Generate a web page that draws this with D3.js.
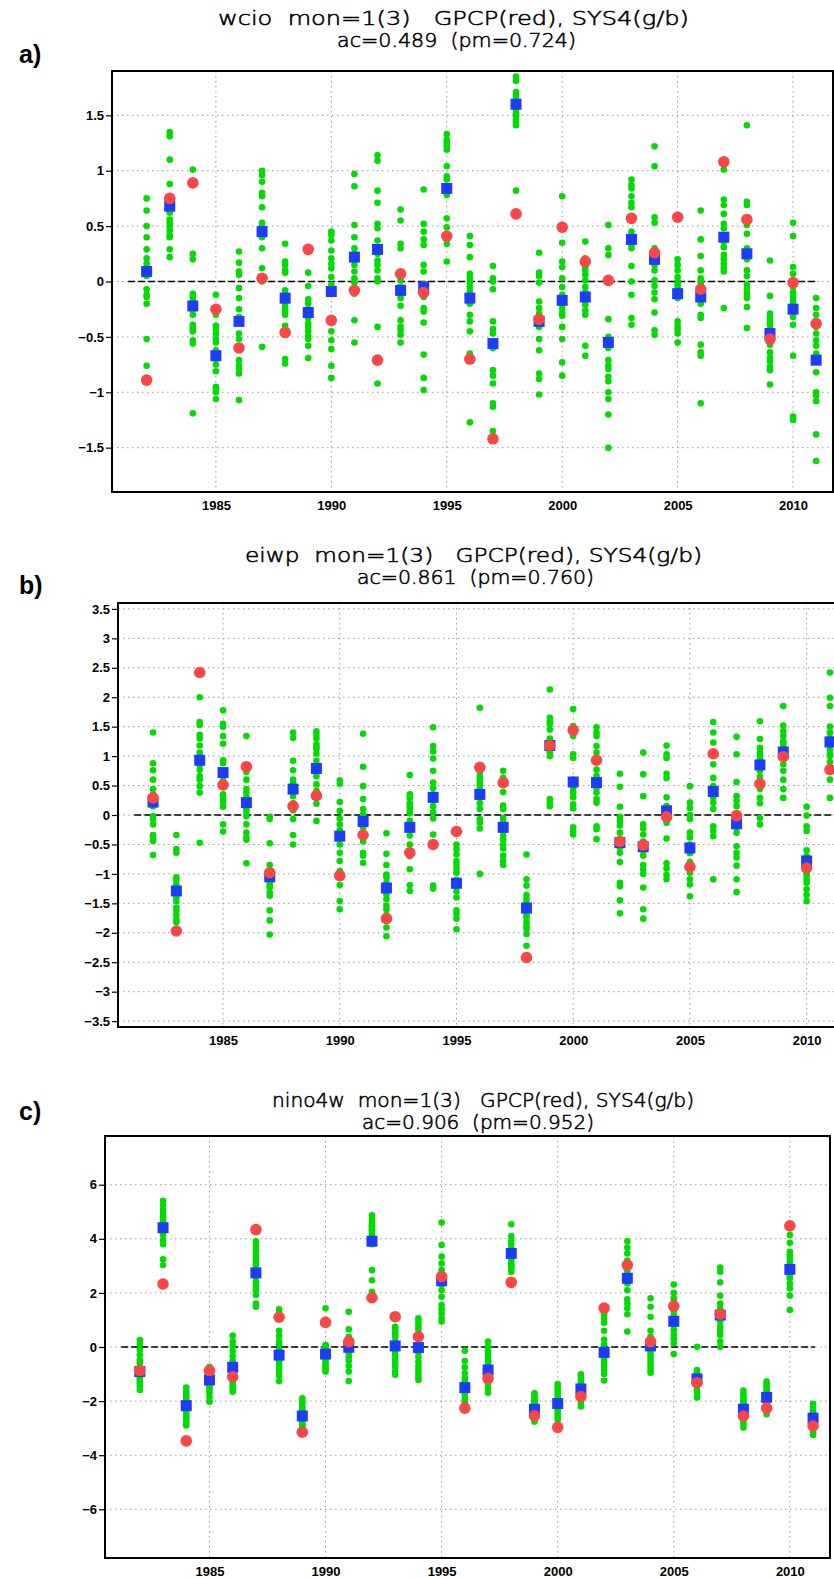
<!DOCTYPE html>
<html><head><meta charset="utf-8">
<script src="https://cdn.jsdelivr.net/npm/d3@7"></script>
<style>body{margin:0;background:#fff} svg{display:block}</style>
</head><body>
<svg id="chart" width="834" height="1578"></svg>
<script>
const years = [1982,1983,1984,1985,1986,1987,1988,1989,1990,1991,1992,1993,1994,1995,1996,1997,1998,1999,2000,2001,2002,2003,2004,2005,2006,2007,2008,2009,2010,2011];
const gridYears = [1985,1990,1995,2000,2005,2010];

// ---- panel a: wcio ----
const wcioTicks = [-1.5,-1,-0.5,0,0.5,1,1.5];
const wcioObs = [-0.89,0.75,0.89,-0.25,-0.6,0.03,-0.46,0.29,-0.35,-0.08,-0.71,0.07,-0.1,0.41,-0.7,-1.42,0.61,-0.34,0.49,0.18,0.01,0.57,0.26,0.58,-0.07,1.08,0.56,-0.52,-0.01,-0.38];
const wcioMean = [0.09,0.68,-0.22,-0.67,-0.36,0.45,-0.15,-0.28,-0.09,0.22,0.29,-0.08,-0.05,0.84,-0.15,-0.56,1.6,-0.36,-0.17,-0.14,-0.55,0.38,0.2,-0.11,-0.14,0.4,0.25,-0.47,-0.25,-0.71];
const wcioMembers = [
[0.75,0.64,0.5,0.4,0.29,0.21,0.16,0.1,0.05,-0.07,-0.12,-0.14,-0.2,-0.52,-0.76],
[1.35,1.31,1.1,0.88,0.72,0.65,0.62,0.56,0.53,0.5,0.46,0.42,0.4,0.29,0.22],
[1.01,0.25,0.2,-0.11,-0.14,-0.18,-0.22,-0.26,-0.3,-0.39,-0.42,-0.45,-0.53,-0.56,-1.19],
[-0.12,-0.3,-0.4,-0.43,-0.47,-0.52,-0.55,-0.62,-0.7,-0.75,-0.81,-0.95,-0.97,-1.0,-1.06],
[0.27,0.17,0.09,0.06,-0.06,-0.15,-0.25,-0.32,-0.47,-0.52,-0.71,-0.76,-0.79,-0.83,-1.07],
[1.0,0.96,0.9,0.8,0.77,0.67,0.53,0.5,0.43,0.4,0.3,0.12,0.03,0.0,-0.59],
[0.34,0.18,0.15,0.1,0.08,-0.08,-0.11,-0.14,-0.2,-0.24,-0.27,-0.3,-0.4,-0.7,-0.74],
[0.08,-0.04,-0.16,-0.2,-0.25,-0.29,-0.3,-0.33,-0.38,-0.41,-0.45,-0.49,-0.52,-0.58,-0.69],
[0.45,0.42,0.37,0.28,0.21,0.16,0.12,0.04,-0.03,-0.11,-0.45,-0.53,-0.61,-0.76,-0.87],
[0.97,0.86,0.51,0.4,0.3,0.25,0.21,0.15,0.09,0.03,-0.01,-0.06,-0.11,-0.35,-0.55],
[1.14,1.09,0.82,0.71,0.52,0.48,0.37,0.25,0.19,0.15,0.1,0.03,0.0,-0.41,-0.92],
[0.65,0.55,0.34,0.3,0.01,-0.05,-0.08,-0.12,-0.15,-0.22,-0.35,-0.41,-0.44,-0.48,-0.55],
[0.83,0.52,0.45,0.38,0.33,0.15,0.09,-0.02,-0.14,-0.24,-0.27,-0.37,-0.66,-0.87,-0.98],
[1.33,1.28,1.25,1.22,1.19,1.04,0.95,0.92,0.8,0.78,0.57,0.49,0.39,0.34,0.18],
[0.41,0.33,0.22,0.07,0.03,-0.01,-0.05,-0.09,-0.12,-0.2,-0.3,-0.36,-0.45,-0.65,-1.27],
[0.14,0.03,0.0,-0.07,-0.36,-0.43,-0.47,-0.55,-0.6,-0.8,-0.85,-0.92,-1.1,-1.13,-1.35],
[1.85,1.81,1.71,1.68,1.65,1.62,1.58,1.55,1.52,1.5,1.49,1.46,1.43,1.41,0.82],
[0.26,0.08,0.05,-0.01,-0.18,-0.24,-0.29,-0.33,-0.36,-0.41,-0.52,-0.62,-0.83,-0.88,-1.02],
[0.77,0.35,0.18,0.13,0.03,-0.05,-0.12,-0.2,-0.24,-0.28,-0.31,-0.41,-0.52,-0.73,-0.85],
[0.36,0.21,0.13,0.1,0.06,0.01,-0.05,-0.1,-0.14,-0.18,-0.21,-0.26,-0.3,-0.58,-0.67],
[0.51,0.3,0.24,-0.34,-0.5,-0.6,-0.71,-0.76,-0.79,-0.86,-0.9,-1.0,-1.06,-1.2,-1.5],
[0.92,0.87,0.84,0.77,0.71,0.67,0.56,0.45,0.33,0.3,0.14,0.0,-0.12,-0.33,-0.39],
[1.22,1.04,0.58,0.53,0.3,0.22,0.15,0.1,0.01,-0.04,-0.1,-0.16,-0.28,-0.44,-0.48],
[0.2,0.15,0.1,0.04,0.0,-0.02,-0.05,-0.08,-0.1,-0.15,-0.36,-0.4,-0.43,-0.47,-0.55],
[0.64,0.38,0.23,0.1,0.03,0.0,-0.03,-0.11,-0.2,-0.3,-0.33,-0.57,-0.64,-0.67,-1.1],
[1.01,0.74,0.69,0.61,0.52,0.48,0.42,0.36,0.31,0.24,0.2,0.16,0.12,0.09,-0.24],
[1.41,0.72,0.69,0.51,0.43,0.3,0.2,0.1,0.05,-0.03,-0.07,-0.11,-0.15,-0.23,-0.42],
[0.19,-0.13,-0.29,-0.33,-0.36,-0.39,-0.43,-0.47,-0.57,-0.64,-0.69,-0.72,-0.77,-0.8,-0.93],
[0.53,0.41,0.13,0.07,-0.05,-0.1,-0.14,-0.17,-0.2,-0.25,-0.32,-0.39,-0.67,-1.22,-1.25],
[-0.15,-0.24,-0.3,-0.36,-0.41,-0.47,-0.53,-0.58,-0.65,-0.82,-1.0,-1.03,-1.08,-1.38,-1.62]
];

// ---- panel b: eiwp ----
const eiwpTicks = [-3.5,-3,-2.5,-2,-1.5,-1,-0.5,0,0.5,1,1.5,2,2.5,3,3.5];
const eiwpObs = [0.29,-1.97,2.42,0.51,0.82,-0.98,0.15,0.33,-1.03,-0.34,-1.76,-0.64,-0.5,-0.28,0.81,0.55,-2.42,1.18,1.44,0.93,-0.45,-0.51,-0.03,-0.88,1.04,-0.01,0.53,0.99,-0.9,0.77];
const eiwpMean = [0.22,-1.29,0.93,0.72,0.21,-1.05,0.44,0.79,-0.36,-0.11,-1.24,-0.21,0.3,-1.16,0.35,-0.21,-1.58,1.18,0.56,0.55,-0.47,-0.54,0.07,-0.56,0.4,-0.15,0.85,1.07,-0.78,1.24];
const eiwpMembers = [
[1.4,0.88,0.76,0.6,0.44,0.35,0.3,0.15,-0.02,-0.07,-0.16,-0.34,-0.38,-0.44,-0.68],
[-0.34,-0.58,-0.64,-1.06,-1.1,-1.18,-1.25,-1.3,-1.4,-1.46,-1.57,-1.63,-1.7,-1.77,-1.82],
[2.0,1.58,1.53,1.36,1.3,1.18,1.06,0.98,0.85,0.77,0.66,0.6,0.49,0.38,-0.47],
[1.78,1.55,1.5,1.34,1.21,0.93,0.88,0.7,0.58,0.35,0.27,0.22,0.14,-0.16,-0.28],
[1.34,0.73,0.6,0.44,0.38,0.3,0.24,0.1,0.05,-0.02,-0.16,-0.3,-0.38,-0.42,-0.82],
[-0.03,-0.07,-0.48,-0.85,-0.95,-1.0,-1.1,-1.15,-1.2,-1.23,-1.32,-1.37,-1.62,-1.79,-2.03],
[1.4,1.31,0.92,0.76,0.6,0.55,0.49,0.44,0.38,0.32,0.2,0.08,-0.07,-0.34,-0.5],
[1.42,1.36,1.3,1.2,1.15,1.12,1.04,0.92,0.85,0.75,0.66,0.52,0.41,0.19,-0.1],
[0.59,0.53,0.22,0.07,-0.06,-0.16,-0.26,-0.4,-0.5,-0.64,-0.78,-0.95,-1.19,-1.46,-1.6],
[1.38,0.82,0.49,0.27,0.1,0.01,-0.05,-0.15,-0.21,-0.3,-0.4,-0.45,-0.64,-0.69,-0.81],
[-0.31,-0.66,-0.85,-1.01,-1.06,-1.15,-1.2,-1.29,-1.35,-1.43,-1.54,-1.6,-1.7,-1.91,-2.06],
[0.68,0.35,0.29,0.2,0.15,0.1,0.03,-0.1,-0.24,-0.35,-0.5,-0.7,-0.92,-1.19,-1.29],
[1.49,1.17,1.08,0.96,0.75,0.55,0.46,0.35,0.25,0.15,0.05,-0.06,-0.33,-1.2,-1.25],
[-0.5,-0.58,-0.67,-0.78,-0.84,-0.91,-0.98,-1.1,-1.2,-1.3,-1.4,-1.62,-1.68,-1.76,-1.94],
[1.82,0.81,0.7,0.63,0.55,0.49,0.42,0.35,0.29,0.2,0.1,-0.07,-0.13,-0.23,-1.0],
[0.75,0.63,0.39,0.16,0.1,-0.05,-0.13,-0.25,-0.35,-0.41,-0.5,-0.57,-0.69,-0.78,-0.85],
[-0.67,-1.09,-1.2,-1.36,-1.43,-1.5,-1.6,-1.65,-1.7,-1.74,-1.82,-1.88,-1.93,-2.02,-2.22],
[2.13,1.65,1.59,1.54,1.45,1.3,1.25,1.2,1.17,1.1,1.06,1.0,0.27,0.21,0.15],
[1.8,1.51,1.34,1.03,0.97,0.6,0.5,0.44,0.38,0.3,0.18,0.11,-0.21,-0.27,-0.33],
[1.49,1.4,1.34,1.17,1.06,0.9,0.77,0.66,0.46,0.38,0.27,0.21,-0.19,-0.24,-0.41],
[0.7,0.48,0.14,-0.03,-0.1,-0.18,-0.3,-0.45,-0.55,-0.64,-0.8,-1.15,-1.21,-1.45,-1.67],
[1.06,0.69,0.32,-0.16,-0.23,-0.33,-0.45,-0.6,-0.69,-0.85,-0.92,-1.0,-1.23,-1.6,-1.76],
[1.18,1.03,0.97,0.7,0.63,0.3,0.15,0.05,-0.05,-0.13,-0.4,-0.82,-0.91,-1.02,-1.09],
[0.49,0.21,0.12,0.0,-0.07,-0.3,-0.38,-0.5,-0.65,-0.8,-0.9,-0.98,-1.09,-1.18,-1.38],
[1.58,1.4,1.23,1.06,0.86,0.63,0.49,0.37,0.3,0.21,0.1,-0.19,-0.27,-0.36,-1.09],
[1.33,1.03,0.56,0.32,0.24,0.15,-0.1,-0.2,-0.3,-0.53,-0.64,-0.72,-0.86,-1.09,-1.31],
[1.59,1.29,1.14,1.06,1.0,0.94,0.85,0.75,0.65,0.53,0.44,0.29,0.2,-0.05,-0.16],
[1.85,1.52,1.42,1.34,1.25,1.2,1.14,1.07,1.0,0.95,0.86,0.75,0.6,0.44,0.29],
[0.14,-0.01,-0.19,-0.27,-0.6,-0.7,-0.8,-0.92,-0.98,-1.03,-1.1,-1.15,-1.26,-1.36,-1.46],
[2.42,1.99,1.85,1.5,1.4,1.31,1.24,1.2,1.11,1.03,1.0,0.9,0.77,0.6,0.29]
];

// ---- panel c: nino4w ----
const nino4wTicks = [-6,-4,-2,0,2,4,6];
const nino4wObs = [-0.87,2.33,-3.47,-0.87,-1.1,4.34,1.1,-3.15,0.91,0.2,1.82,1.12,0.38,2.6,-2.26,-1.16,2.39,-2.54,-2.97,-1.83,1.44,3.03,0.2,1.51,-1.32,1.21,-2.55,-2.26,4.48,-2.92];
const nino4wMean = [-0.91,4.41,-2.17,-1.22,-0.75,2.74,-0.3,-2.55,-0.26,-0.01,3.91,0.04,-0.02,2.45,-1.5,-0.85,3.46,-2.3,-2.09,-1.55,-0.2,2.54,0.04,0.95,-1.18,1.18,-2.3,-1.86,2.87,-2.63];
const nino4wMembers = [
[0.26,0.1,-0.1,-0.3,-0.48,-0.6,-0.73,-0.85,-0.97,-1.05,-1.16,-1.25,-1.34,-1.45,-1.59],
[5.4,5.24,5.06,4.92,4.81,4.7,4.63,4.5,4.32,4.2,4.14,3.95,3.8,3.24,3.03],
[-1.5,-1.65,-1.77,-1.86,-1.96,-2.05,-2.15,-2.2,-2.3,-2.4,-2.51,-2.6,-2.7,-2.8,-2.9],
[-0.73,-0.8,-0.9,-0.97,-1.05,-1.12,-1.2,-1.28,-1.36,-1.45,-1.52,-1.59,-1.71,-1.85,-2.02],
[0.42,0.2,0.04,-0.15,-0.33,-0.5,-0.65,-0.85,-0.95,-1.05,-1.22,-1.32,-1.44,-1.55,-1.65],
[3.91,3.75,3.58,3.4,3.27,3.15,3.03,2.85,2.6,2.41,2.25,2.1,1.92,1.61,1.49],
[1.39,1.22,0.6,0.41,0.2,0.1,-0.1,-0.3,-0.4,-0.54,-0.65,-0.75,-0.91,-1.05,-1.26],
[-1.9,-2.0,-2.08,-2.2,-2.3,-2.35,-2.4,-2.45,-2.5,-2.57,-2.65,-2.72,-2.82,-2.88,-2.94],
[1.43,0.07,0.05,0.0,-0.1,-0.17,-0.25,-0.3,-0.42,-0.5,-0.6,-0.7,-0.79,-0.85,-0.91],
[1.3,0.65,0.38,0.25,0.15,0.07,0.0,-0.05,-0.15,-0.25,-0.36,-0.5,-0.7,-0.91,-1.26],
[4.87,4.71,4.6,4.5,4.45,4.4,4.32,4.3,4.22,4.14,4.0,3.8,2.84,2.47,2.04],
[0.75,0.65,0.57,0.45,0.38,0.2,0.01,-0.15,-0.3,-0.45,-0.54,-0.65,-0.73,-0.91,-1.03],
[1.06,0.95,0.87,0.75,0.63,0.44,0.07,-0.2,-0.36,-0.54,-0.7,-0.85,-0.97,-1.1,-1.22],
[4.6,3.77,3.34,3.09,2.84,2.6,2.47,2.3,2.1,1.86,1.55,1.4,1.24,1.06,0.94],
[-0.14,-0.52,-0.75,-0.97,-1.15,-1.25,-1.3,-1.45,-1.5,-1.59,-1.65,-1.7,-1.8,-1.96,-2.05],
[0.2,0.01,-0.17,-0.3,-0.36,-0.5,-0.6,-0.73,-0.85,-1.0,-1.1,-1.22,-1.35,-1.53,-1.69],
[4.54,4.1,3.95,3.8,3.65,3.6,3.5,3.35,3.3,3.21,3.1,3.0,2.97,2.9,2.78],
[-1.71,-1.8,-1.9,-1.95,-2.0,-2.05,-2.14,-2.2,-2.25,-2.3,-2.4,-2.51,-2.6,-2.68,-2.76],
[-1.37,-1.5,-1.59,-1.7,-1.8,-1.9,-1.95,-2.0,-2.1,-2.2,-2.25,-2.33,-2.45,-2.57,-2.7],
[-1.01,-1.1,-1.22,-1.3,-1.4,-1.46,-1.5,-1.55,-1.62,-1.71,-1.8,-1.9,-2.0,-2.1,-2.2],
[1.21,1.05,0.9,0.6,0.28,0.1,-0.1,-0.2,-0.3,-0.45,-0.57,-0.7,-0.85,-1.0,-1.24],
[3.91,3.68,3.46,3.2,3.0,2.8,2.6,2.5,2.35,2.1,1.76,1.6,1.43,1.21,0.57],
[1.8,1.49,1.12,0.6,0.38,0.14,0.0,-0.1,-0.23,-0.35,-0.48,-0.6,-0.73,-0.85,-0.95],
[2.31,2.0,1.8,1.67,1.5,1.33,1.15,1.0,0.96,0.8,0.63,0.45,0.3,0.14,-0.26],
[0.01,-0.85,-0.95,-1.0,-1.03,-1.1,-1.15,-1.2,-1.25,-1.28,-1.35,-1.45,-1.59,-1.7,-1.87],
[2.94,2.78,2.39,1.9,1.61,1.43,1.3,1.2,1.1,0.95,0.75,0.6,0.44,0.2,0.01],
[-1.61,-1.75,-1.86,-1.95,-2.05,-2.15,-2.2,-2.25,-2.3,-2.4,-2.5,-2.63,-2.75,-2.85,-2.98],
[-1.28,-1.37,-1.46,-1.55,-1.62,-1.71,-1.8,-1.85,-1.9,-1.98,-2.0,-2.08,-2.2,-2.3,-2.49],
[4.14,3.85,3.52,3.4,3.3,3.15,3.0,2.85,2.7,2.6,2.55,2.35,2.17,1.9,1.37],
[-2.1,-2.2,-2.33,-2.4,-2.45,-2.5,-2.57,-2.65,-2.7,-2.75,-2.85,-2.94,-3.05,-3.15,-3.25]
];

const panelLabels = ["a)","b)","c)"];
const titleLine1 = ["wcio  mon=1(3)   GPCP(red), SYS4(g/b)","eiwp  mon=1(3)   GPCP(red), SYS4(g/b)","nino4w  mon=1(3)   GPCP(red), SYS4(g/b)"];
const titleLine2 = ["ac=0.489  (pm=0.724)","ac=0.861  (pm=0.760)","ac=0.906  (pm=0.952)"];

// layout (positions / sizes only)
const panels = [
  {obs:wcioObs, mean:wcioMean, members:wcioMembers, ticks:wcioTicks, ydom:[-1.9,1.9],
   left:112, right:833, top:71, bottom:492,
   lab:{x:19,y:63}, t1:{x:218,y:25,w:471}, t2:{x:337,y:47,w:239}},
  {obs:eiwpObs, mean:eiwpMean, members:eiwpMembers, ticks:eiwpTicks, ydom:[-3.6,3.6],
   left:118, right:847, top:603, bottom:1027,
   lab:{x:19,y:594}, t1:{x:245,y:562,w:457}, t2:{x:357,y:584,w:237}},
  {obs:nino4wObs, mean:nino4wMean, members:nino4wMembers, ticks:nino4wTicks, ydom:[-7.8,7.8],
   left:105, right:830, top:1136, bottom:1558,
   lab:{x:19,y:1120}, t1:{x:272,y:1107,w:422}, t2:{x:362,y:1129,w:232}}
];

const GREEN = "#00dc00", RED = "#fa4646", BLUE = "#1e3cff";
const svg = d3.select("#chart");

panels.forEach((p, i) => {
  const x = d3.scaleLinear().domain([1980.5, 2011.73]).range([p.left, p.right]);
  const y = d3.scaleLinear().domain(p.ydom).range([p.bottom, p.top]);
  const g = svg.append("g");

  // titles
  g.append("text").attr("x", p.lab.x).attr("y", p.lab.y).text(panelLabels[i])
    .attr("font-family","Liberation Sans, Arial, sans-serif").attr("font-weight","bold")
    .attr("font-size", 25).attr("fill","#000");
  [[p.t1, titleLine1[i]], [p.t2, titleLine2[i]]].forEach(([t, s]) => {
    g.append("text").attr("x", t.x).attr("y", t.y).text(s)
      .attr("textLength", t.w).attr("lengthAdjust","spacingAndGlyphs")
      .style("white-space","pre")
      .attr("font-family","DejaVu Sans, sans-serif").attr("font-weight", 200)
      .attr("font-size", 20).attr("fill","#000")
      .attr("stroke","#000").attr("stroke-width",0.55);
  });

  // grid
  g.append("g").selectAll("line").data(p.ticks).join("line")
    .attr("x1", p.left).attr("x2", p.right).attr("y1", d => y(d)).attr("y2", d => y(d))
    .attr("stroke","#9a9a9a").attr("stroke-width",1).attr("stroke-dasharray","1.5,3.5");
  g.append("g").selectAll("line").data(gridYears).join("line")
    .attr("x1", d => x(d)).attr("x2", d => x(d)).attr("y1", p.top).attr("y2", p.bottom)
    .attr("stroke","#9a9a9a").attr("stroke-width",1).attr("stroke-dasharray","1.5,3.5");

  // zero line
  g.append("line").attr("x1", x(1981.2)).attr("x2", x(2011.08)).attr("y1", y(0)).attr("y2", y(0))
    .attr("stroke","#000").attr("stroke-width",1.6).attr("stroke-dasharray","7,3");

  // axes
  const yAxis = d3.axisLeft(y).tickValues(p.ticks).tickSize(6).tickPadding(2)
    .tickFormat(d => (d < 0 ? "\u2212" : "") + Math.abs(d));
  const ya = g.append("g").attr("transform", `translate(${p.left},0)`).call(yAxis);
  ya.select(".domain").remove();
  ya.selectAll("line").attr("stroke","#000").attr("stroke-width",1.2);
  ya.selectAll("text").attr("font-family","Liberation Sans, Arial, sans-serif")
    .attr("font-weight","bold").attr("font-size",13).attr("fill","#000");

  const xAxis = d3.axisBottom(x).tickValues(gridYears).tickSize(0).tickPadding(9).tickFormat(d3.format("d"));
  const xa = g.append("g").attr("transform", `translate(0,${p.bottom})`).call(xAxis);
  xa.select(".domain").remove();
  xa.selectAll("text").attr("font-family","Liberation Sans, Arial, sans-serif")
    .attr("font-weight","bold").attr("font-size",13).attr("fill","#000");

  // members
  const pts = [];
  p.members.forEach((arr, k) => arr.forEach(v => pts.push([years[k], v])));
  g.append("g").selectAll("circle").data(pts).join("circle")
    .attr("cx", d => x(d[0])).attr("cy", d => y(d[1])).attr("r", 3.3).attr("fill", GREEN);

  // ensemble mean squares
  const s = 11;
  g.append("g").selectAll("rect").data(p.mean).join("rect")
    .attr("x", (d, k) => x(years[k]) - s/2).attr("y", d => y(d) - s/2)
    .attr("width", s).attr("height", s).attr("fill", BLUE);

  // observations
  g.append("g").selectAll("circle").data(p.obs).join("circle")
    .attr("cx", (d, k) => x(years[k])).attr("cy", d => y(d)).attr("r", 5.8).attr("fill", RED);

  // frame
  g.append("rect").attr("x", p.left).attr("y", p.top)
    .attr("width", p.right - p.left).attr("height", p.bottom - p.top)
    .attr("fill","none").attr("stroke","#000").attr("stroke-width",2);
});
</script>
</body></html>
